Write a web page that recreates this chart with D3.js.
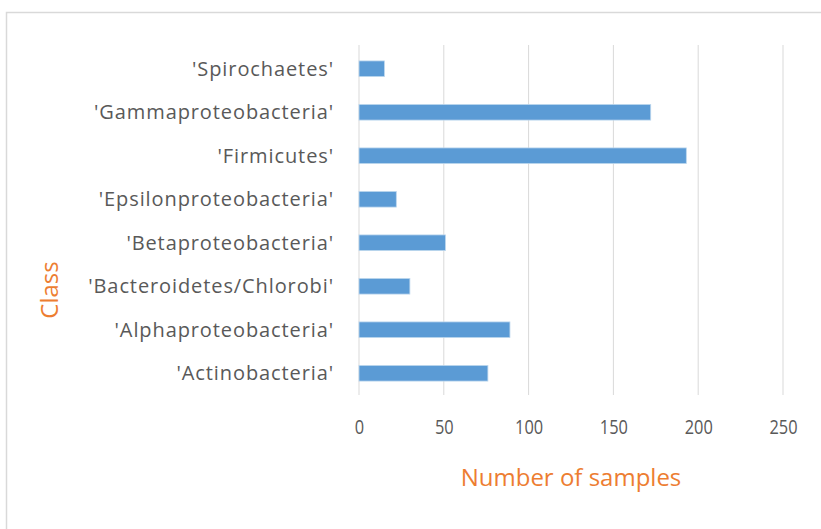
<!DOCTYPE html>
<html><head><meta charset="utf-8">
<script src="https://cdn.jsdelivr.net/npm/d3@7"></script>
<style>body{margin:0;background:#fff}</style>
</head><body>
<script>
const categories = ["'Actinobacteria'","'Alphaproteobacteria'","'Bacteroidetes/Chlorobi'","'Betaproteobacteria'","'Epsilonproteobacteria'","'Firmicutes'","'Gammaproteobacteria'","'Spirochaetes'"];
const values = [76, 89, 30, 51, 22, 193, 172, 15];
const xTicks = [0, 50, 100, 150, 200, 250];

const W = 821, H = 529;
const svg = d3.select("body").append("svg").attr("width", W).attr("height", H);
const font = "'Open Sans', sans-serif";

svg.append("rect").attr("x", 6.5).attr("y", 12.5).attr("width", W).attr("height", H)
  .attr("fill", "#fff").attr("stroke", "#d9d9d9").attr("stroke-width", 1.5);

const x = d3.scaleLinear().domain([0, 250]).range([359, 783]);
const y = d3.scaleBand().domain(categories.slice().reverse()).range([47, 395]).paddingInner(0.64).paddingOuter(0.32);

const g = svg.append("g");
g.selectAll("line.grid").data(xTicks).join("line").attr("class","grid")
  .attr("x1", d => x(d)).attr("x2", d => x(d)).attr("y1", 45).attr("y2", 395)
  .attr("stroke", "#d9d9d9").attr("stroke-width", 1);

g.selectAll("rect.bar").data(categories).join("rect").attr("class","bar")
  .attr("x", x(0)).attr("y", d => y(d)).attr("width", (d,i) => x(values[i]) - x(0))
  .attr("height", y.bandwidth()).attr("fill", "#5b9bd5").attr("stroke", "#bdd7ee").attr("stroke-width", 0.8);

const yAxis = d3.axisLeft(y).tickSize(0).tickPadding(0);
const ya = svg.append("g").attr("transform", "translate(334,0)").call(yAxis);
ya.select(".domain").remove();
ya.selectAll("text").attr("font-family", font).attr("font-size", 20).attr("fill", "#595959")
  .attr("letter-spacing", "0.9px").attr("dy", "0.36em");

const xAxis = d3.axisBottom(x).tickValues(xTicks).tickSize(0).tickPadding(0);
const xa = svg.append("g").attr("transform", "translate(0,420)").call(xAxis);
xa.select(".domain").remove();
xa.selectAll("text").attr("font-family", font).attr("font-size", 20).attr("fill", "#595959")
  .attr("transform", "scale(0.82,1)");

svg.append("text").attr("x", 571).attr("y", 486).attr("text-anchor", "middle")
  .attr("font-family", font).attr("font-size", 24).attr("fill", "#ed7d31").text("Number of samples");
svg.append("text").attr("transform", "translate(58,290) rotate(-90)").attr("text-anchor", "middle")
  .attr("font-family", font).attr("font-size", 24).attr("fill", "#ed7d31").text("Class");
</script>
</body></html>
